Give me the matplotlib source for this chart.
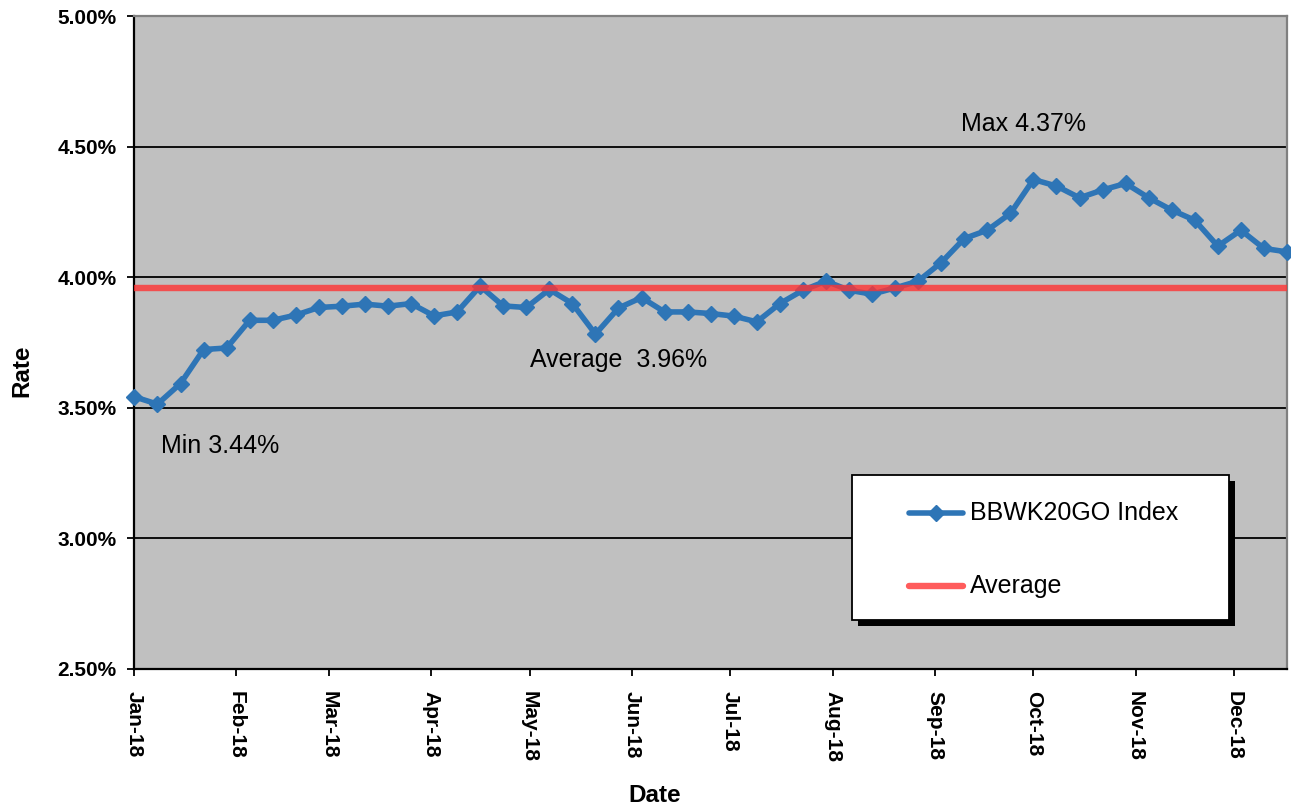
import datetime as dt
import matplotlib
matplotlib.use("Agg")
import matplotlib.pyplot as plt
import matplotlib.dates as mdates
from matplotlib.lines import Line2D
from matplotlib.patches import Rectangle

plt.rcParams['font.family'] = ['Liberation Sans', 'DejaVu Sans']

# Weekly BBWK20GO fixings (%), Mondays from 1 Jan 2018
start_date = dt.date(2018, 1, 1)
rates = [3.542, 3.514, 3.593, 3.723, 3.729, 3.835, 3.835, 3.855, 3.884, 3.889,
         3.897, 3.889, 3.899, 3.852, 3.867, 3.966, 3.890, 3.884, 3.953, 3.899,
         3.782, 3.882, 3.922, 3.867, 3.867, 3.861, 3.851, 3.829, 3.899, 3.950,
         3.985, 3.950, 3.935, 3.959, 3.985, 4.056, 4.148, 4.180, 4.244, 4.374,
         4.349, 4.304, 4.334, 4.359, 4.304, 4.257, 4.218, 4.119, 4.180, 4.110,
         4.097]
dates = [start_date + dt.timedelta(weeks=i) for i in range(len(rates))]

average_rate = 3.96
max_rate = 4.37
min_rate = 3.44

series_label = "BBWK20GO Index"
average_label = "Average"
y_ticks = [2.5, 3.0, 3.5, 4.0, 4.5, 5.0]

blue = "#2E75B6"
red = "#FF3333"
line_w = 4.0
marker_s = 8.5
avg_w = 4.6

W, H = 1291, 807
fig = plt.figure(figsize=(W / 100, H / 100), dpi=100)
ax = fig.add_axes([134.4 / W, 1 - 669 / H, (1287 - 134.4) / W, (669 - 16) / H])
ax.set_facecolor("#C0C0C0")

ax.plot(dates, rates, color=blue, lw=line_w, marker="D", ms=marker_s,
        mec=blue, mfc=blue, zorder=3, clip_on=False)
ax.axhline(average_rate, color=red, alpha=0.8, lw=avg_w, zorder=4)

ax.set_xlim(dates[0], dates[-1])
ax.set_ylim(y_ticks[0], y_ticks[-1])
ax.set_yticks(y_ticks)
ax.yaxis.set_major_formatter(matplotlib.ticker.FuncFormatter(lambda v, p: f"{v:.2f}%"))
ax.xaxis.set_major_locator(mdates.MonthLocator())
ax.xaxis.set_major_formatter(mdates.DateFormatter("%b-%y"))

for v in y_ticks[1:-1]:
    ax.axhline(v, color="black", lw=1.3, zorder=1)

ax.tick_params(axis="y", direction="out", length=5, width=1.3, pad=8,
               labelsize=15)
ax.tick_params(axis="x", direction="out", length=5, width=1.3, pad=11,
               labelsize=15)
for lbl in ax.get_yticklabels():
    lbl.set_fontweight("bold")
for lbl in ax.get_xticklabels():
    lbl.set_fontweight("bold")
    lbl.set_rotation(270)
    lbl.set_ha("center")
    lbl.set_va("top")

for side in ("left", "bottom"):
    ax.spines[side].set_color("black")
    ax.spines[side].set_linewidth(1.6)
for side in ("top", "right"):
    ax.spines[side].set_color("#808080")
    ax.spines[side].set_linewidth(1.6)

fig.text(22 / W, 1 - 371 / H, "Rate", rotation=90, ha="center", va="center",
         fontsize=17.5, fontweight="bold")
fig.text(655 / W, 1 - 795 / H, "Date", ha="center", va="center",
         fontsize=17.5, fontweight="bold")

ax.text(dt.date(2018, 9, 9), 4.587, f"Max {max_rate:.2f}%", fontsize=18,
        va="center", ha="left", zorder=5)
ax.text(dt.date(2018, 5, 1), 3.682, f"Average  {average_rate:.2f}%", fontsize=18,
        va="center", ha="left", zorder=5)
ax.text(dt.date(2018, 1, 9), 3.353, f"Min {min_rate:.2f}%", fontsize=18,
        va="center", ha="left", zorder=5)

# Legend box with drop shadow, laid out in pixel units
lx0, ly0, lx1, ly1 = 852, 475, 1229, 620


def fx(px):
    return px / W


def fy(py):
    return 1 - py / H


fig.patches.append(Rectangle((fx(lx0 + 6), fy(ly1 + 6)), (lx1 - lx0) / W,
                             (ly1 - ly0) / H, transform=fig.transFigure,
                             facecolor="black", edgecolor="none", zorder=10))
fig.patches.append(Rectangle((fx(lx0), fy(ly1)), (lx1 - lx0) / W,
                             (ly1 - ly0) / H, transform=fig.transFigure,
                             facecolor="white", edgecolor="black", lw=1.3,
                             zorder=11))
fig.lines.append(Line2D([fx(909), fx(963)], [fy(513), fy(513)], color=blue,
                        lw=line_w, transform=fig.transFigure, zorder=12,
                        solid_capstyle="round"))
fig.lines.append(Line2D([fx(936)], [fy(513)], color=blue, marker="D",
                        ms=marker_s, transform=fig.transFigure, zorder=12))
fig.lines.append(Line2D([fx(909), fx(963)], [fy(586), fy(586)], color=red,
                        alpha=0.8, lw=avg_w, transform=fig.transFigure,
                        zorder=12, solid_capstyle="round"))
fig.text(fx(970), fy(513), series_label, fontsize=18, va="center", ha="left",
         zorder=13)
fig.text(fx(970), fy(586), average_label, fontsize=18, va="center", ha="left",
         zorder=13)

fig.savefig("out.png", dpi=100)
